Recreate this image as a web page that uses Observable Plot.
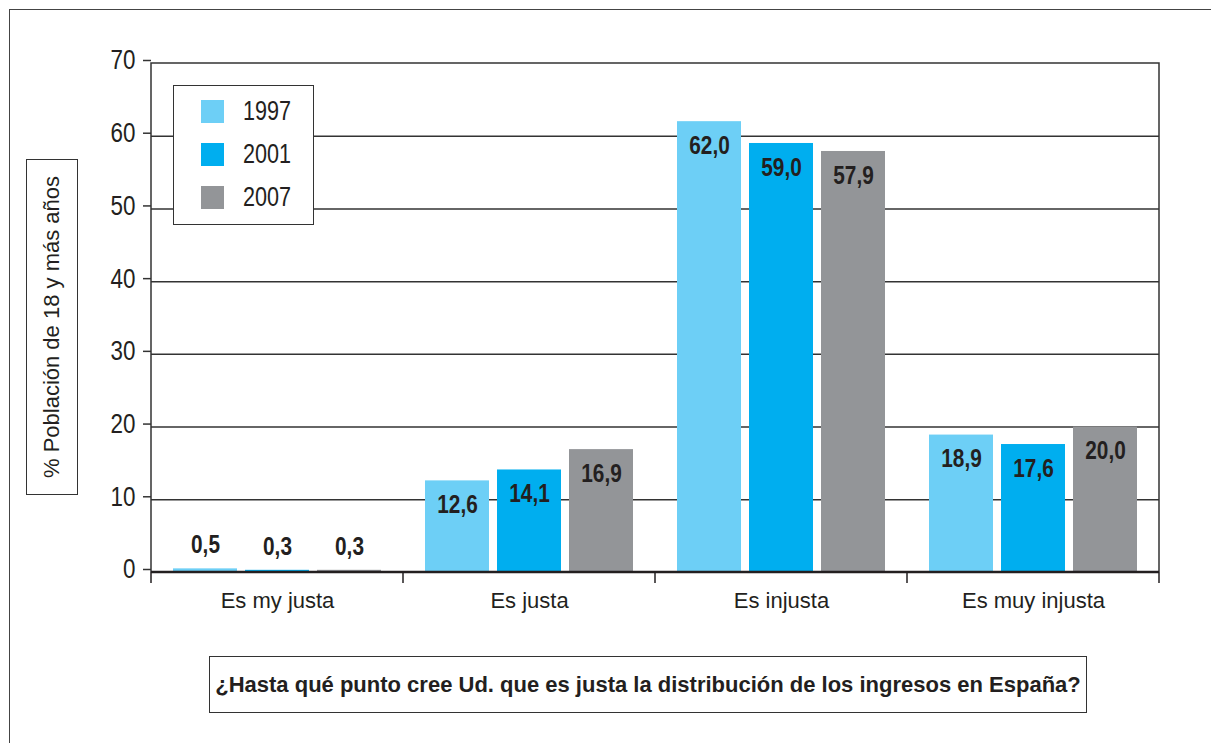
<!DOCTYPE html>
<html>
<head>
<meta charset="utf-8">
<script src="https://cdn.jsdelivr.net/npm/d3@7"></script>
<script src="https://cdn.jsdelivr.net/npm/@observablehq/plot@0.6"></script>
<style>
  html, body { margin: 0; padding: 0; background: #fff; }
  body { width: 1211px; height: 743px; overflow: hidden; position: relative; font-family: "Liberation Sans", Arial, sans-serif; color: #231f20; }
  #outer { position: absolute; left: 9px; top: 9px; width: 1400px; height: 900px; border-left: 1.5px solid #444; border-top: 1.5px solid #444; }
  #chart { position: absolute; left: 0; top: 0; }
  #ytitle { position: absolute; left: 26px; top: 159px; width: 50px; height: 334px; border: 1.5px solid #333; background: #fff; }
  #ytitle span { position: absolute; left: 50%; top: 50%; transform: translate(-50%, -50%) rotate(-90deg); white-space: nowrap; font-size: 22px; }
  #legend { position: absolute; left: 173px; top: 85px; width: 139px; height: 138px; border: 1.5px solid #333; background: #fff; }
  .li { position: absolute; left: 27px; height: 23px; display: flex; align-items: center; }
  .sw { width: 23px; height: 23px; margin-right: 19px; flex: none; }
  .lt { font-family: "Liberation Sans", sans-serif; font-size: 27px; display: inline-block; transform: scaleX(0.8); transform-origin: left center; }
  #question { position: absolute; left: 209px; top: 656px; width: 876px; height: 55px; border: 1.5px solid #333; display: flex; align-items: center; justify-content: center; font-weight: bold; font-size: 22px; }
</style>
</head>
<body>
<div id="outer"></div>
<div id="chart"></div>
<div id="ytitle"><span>% Población de 18 y más años</span></div>
<div id="legend"></div>
<div id="question">¿Hasta qué punto cree Ud. que es justa la distribución de los ingresos en España?</div>
<script>
const categories = ["Es my justa", "Es justa", "Es injusta", "Es muy injusta"];
const years = ["1997", "2001", "2007"];
const colors = ["#6dcff6", "#00aeef", "#939598"];
const values1997 = [0.5, 12.6, 62.0, 18.9];
const values2001 = [0.3, 14.1, 59.0, 17.6];
const values2007 = [0.3, 16.9, 57.9, 20.0];
const yTicks = [0, 10, 20, 30, 40, 50, 60, 70];
const gridTicks = [10, 20, 30, 40, 50, 60];

const series = [values1997, values2001, values2007];
const data = [];
categories.forEach((c, i) => {
  years.forEach((y, j) => data.push({category: c, year: y, value: series[j][i]}));
});
const fmt = v => v.toFixed(1).replace(".", ",");
const sans = "'Liberation Sans', Arial, sans-serif";

const W = 1211, H = 640;
const plot = Plot.plot({
  width: W,
  height: H,
  marginLeft: 149,
  marginRight: 51,
  marginTop: 63,
  marginBottom: 68,
  style: {background: "transparent", color: "#231f20", fontFamily: sans},
  fx: {domain: categories, padding: 0, label: null},
  x: {domain: years, paddingInner: 0.117, paddingOuter: 0.3, axis: null},
  y: {domain: [0, 70], label: null},
  color: {domain: years, range: colors},
  marks: [
    Plot.ruleY(gridTicks, {stroke: "#333", strokeWidth: 1.5}),
    Plot.barY(data, {fx: "category", x: "year", y: "value", fill: "year"}),
    Plot.text(data.filter(d => d.value >= 5), {fx: "category", x: "year", y: "value", text: d => fmt(d.value), dy: 24, fontSize: 26, fontWeight: "bold", fontFamily: sans, fill: "#231f20", className: "vlab"}),
    Plot.text(data.filter(d => d.value < 5), {fx: "category", x: "year", y: "value", text: d => fmt(d.value), dy: -24, fontSize: 26, fontWeight: "bold", fontFamily: sans, fill: "#231f20", className: "vlab"}),
    Plot.axisY({ticks: yTicks, tickSize: 8, tickPadding: 8, fontSize: 28, fontFamily: sans, dy: -3, label: null, stroke: "#333", strokeWidth: 1.5, className: "ytl"}),
    Plot.axisFx({anchor: "bottom", tickSize: 0, tickPadding: 20, fontSize: 22, label: null})
  ]
});
document.getElementById("chart").appendChild(plot);

// condensed look for numeric labels (narrow typeface of the original)
const svg = d3.select(plot);
svg.selectAll(".vlab text, .ytl text, g[aria-label='text'] text, g[aria-label='y-axis tick label'] text").each(function() {
  const t = this.getAttribute("transform") || "";
  if (!t.includes("scale")) this.setAttribute("transform", t + " scale(0.8,1)");
});

// frame and category boundary ticks from the plot's own scales
const fx = plot.scale("fx"), ys = plot.scale("y");
const x0 = fx.apply(categories[0]);
const x1 = fx.apply(categories[categories.length - 1]) + fx.bandwidth;
const yb = ys.apply(0), yt = ys.apply(70);
const g = svg.append("g");
g.append("path").attr("d", `M${x0},${yb}V${yt}H${x1}V${yb}`).attr("fill", "none").attr("stroke", "#333").attr("stroke-width", 1.5);
g.append("line").attr("x1", x0).attr("x2", x1).attr("y1", yb).attr("y2", yb).attr("stroke", "#231f20").attr("stroke-width", 2.5);
const bounds = categories.map(c => fx.apply(c)).concat([x1]);
g.selectAll("line.b").data(bounds).join("line").attr("class", "b")
  .attr("x1", d => d).attr("x2", d => d).attr("y1", yb).attr("y2", yb + 11)
  .attr("stroke", "#231f20").attr("stroke-width", 1.5);

// legend
const leg = document.getElementById("legend");
years.forEach((y, i) => {
  const item = document.createElement("div");
  item.className = "li";
  item.style.top = (14 + i * 43) + "px";
  item.innerHTML = `<div class="sw" style="background:${colors[i]}"></div><span class="lt">${y}</span>`;
  leg.appendChild(item);
});
</script>
</body>
</html>
